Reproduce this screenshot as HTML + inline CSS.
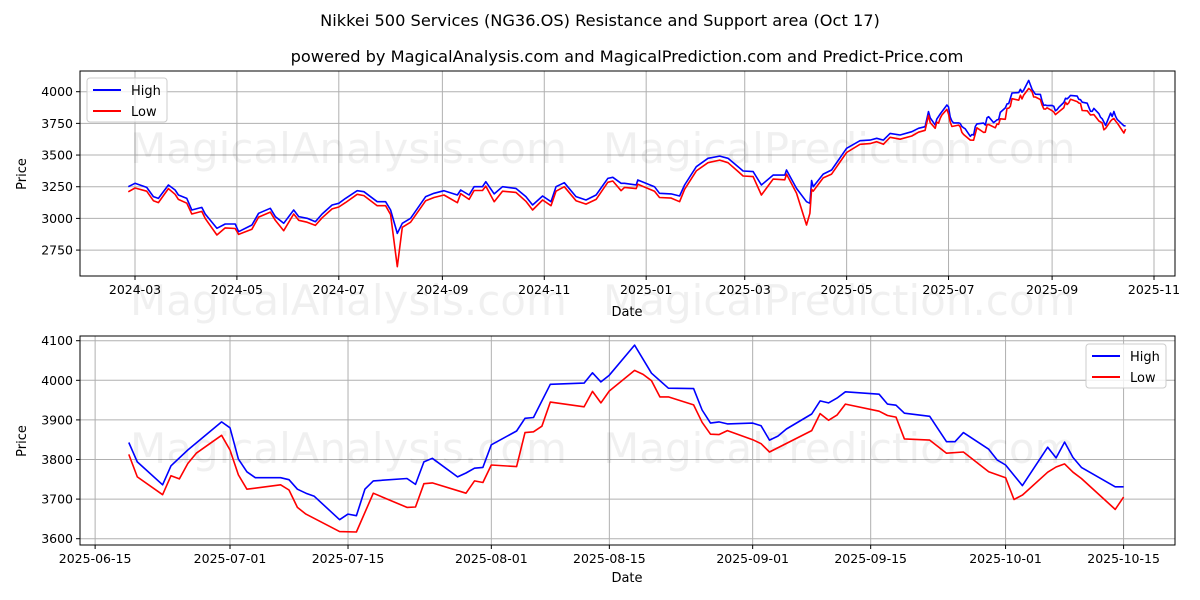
<!DOCTYPE html>
<html><head><meta charset="utf-8"><style>
body{margin:0;background:#fff;}
svg{display:block;font-family:"DejaVu Sans","Liberation Sans",sans-serif;}
</style></head><body>
<svg id="c" width="1200" height="600" xmlns="http://www.w3.org/2000/svg">
<rect width="1200" height="600" fill="#fff"/>
<text x="600" y="26" text-anchor="middle" font-size="16.2" fill="#000">Nikkei 500 Services (NG36.OS) Resistance and Support area (Oct 17)</text>
<text x="627" y="62" text-anchor="middle" font-size="16.2" fill="#000">powered by MagicalAnalysis.com and MagicalPrediction.com and Predict-Price.com</text>
<g id="topPanel"></g>
<g id="botPanel"></g>
</svg>
<script>
const earlyDates=["2024-02-26","2024-03-01","2024-03-08","2024-03-12","2024-03-15","2024-03-21","2024-03-25","2024-03-27","2024-04-01","2024-04-04","2024-04-10","2024-04-12","2024-04-19","2024-04-24","2024-04-30","2024-05-02","2024-05-10","2024-05-14","2024-05-21","2024-05-24","2024-05-29","2024-06-04","2024-06-07","2024-06-12","2024-06-17","2024-06-21","2024-06-27","2024-07-01","2024-07-05","2024-07-12","2024-07-16","2024-07-24","2024-07-29","2024-08-01","2024-08-05","2024-08-08","2024-08-13","2024-08-22","2024-08-27","2024-09-02","2024-09-10","2024-09-12","2024-09-17","2024-09-20","2024-09-25","2024-09-27","2024-10-02","2024-10-07","2024-10-15","2024-10-21","2024-10-25","2024-10-31","2024-11-05","2024-11-08","2024-11-13","2024-11-20","2024-11-26","2024-12-02","2024-12-09","2024-12-12","2024-12-17","2024-12-19","2024-12-26","2024-12-27","2025-01-06","2025-01-09","2025-01-16","2025-01-21","2025-01-24","2025-01-31","2025-02-07","2025-02-14","2025-02-19","2025-02-25","2025-02-28","2025-03-06","2025-03-11","2025-03-18","2025-03-25","2025-03-26","2025-04-01","2025-04-07","2025-04-09","2025-04-10","2025-04-11","2025-04-17","2025-04-22","2025-05-01","2025-05-09","2025-05-15","2025-05-19","2025-05-23","2025-05-27","2025-06-02","2025-06-09","2025-06-13","2025-06-17"];
const earlyHigh=[3250,3277,3245,3172,3158,3264,3224,3185,3158,3066,3087,3035,2922,2956,2956,2895,2948,3040,3080,3014,2961,3066,3014,3001,2974,3035,3106,3119,3158,3219,3211,3132,3132,3066,2882,2961,3001,3172,3198,3219,3185,3224,3185,3250,3250,3290,3193,3250,3237,3172,3106,3177,3132,3250,3282,3172,3145,3185,3316,3324,3277,3277,3264,3303,3250,3198,3193,3177,3264,3408,3474,3492,3474,3408,3374,3369,3264,3342,3342,3382,3237,3132,3119,3298,3250,3350,3382,3553,3613,3618,3632,3618,3671,3658,3684,3711,3724];
const earlyLow=[3210,3240,3215,3140,3125,3235,3190,3150,3120,3035,3055,3000,2869,2925,2920,2874,2915,3010,3050,2985,2903,3035,2985,2970,2945,3005,3075,3090,3125,3190,3180,3100,3100,3030,2619,2930,2970,3140,3165,3185,3124,3195,3150,3220,3220,3255,3132,3215,3205,3135,3066,3145,3100,3215,3250,3140,3113,3150,3285,3295,3219,3245,3235,3270,3215,3165,3160,3132,3230,3375,3440,3460,3440,3370,3335,3330,3185,3310,3305,3350,3200,2948,3040,3230,3215,3320,3350,3520,3585,3590,3605,3585,3640,3625,3650,3680,3695];
const recentHighDates=["2025-06-19","2025-06-20","2025-06-23","2025-06-24","2025-06-26","2025-06-30","2025-07-01","2025-07-02","2025-07-03","2025-07-04","2025-07-07","2025-07-08","2025-07-09","2025-07-10","2025-07-11","2025-07-14","2025-07-15","2025-07-16","2025-07-17","2025-07-18","2025-07-22","2025-07-23","2025-07-24","2025-07-25","2025-07-28","2025-07-29","2025-07-30","2025-07-31","2025-08-01","2025-08-04","2025-08-05","2025-08-06","2025-08-08","2025-08-12","2025-08-13","2025-08-14","2025-08-15","2025-08-18","2025-08-20","2025-08-22","2025-08-25","2025-08-26","2025-08-27","2025-08-28","2025-08-29","2025-09-01","2025-09-02","2025-09-03","2025-09-04","2025-09-05","2025-09-08","2025-09-09","2025-09-10","2025-09-11","2025-09-12","2025-09-16","2025-09-17","2025-09-18","2025-09-19","2025-09-22","2025-09-24","2025-09-25","2025-09-26","2025-09-29","2025-09-30","2025-10-01","2025-10-03","2025-10-06","2025-10-07","2025-10-08","2025-10-09","2025-10-10","2025-10-14","2025-10-15"];
const recentHigh=[3843,3794,3736,3784,3824,3895,3880,3801,3769,3754,3754,3749,3725,3715,3707,3648,3662,3658,3725,3746,3752,3737,3794,3803,3756,3766,3778,3780,3837,3872,3904,3906,3990,3993,4019,3996,4013,4089,4018,3980,3979,3925,3892,3895,3890,3892,3885,3849,3859,3877,3915,3948,3943,3955,3971,3965,3940,3937,3917,3909,3845,3845,3868,3826,3799,3786,3734,3831,3804,3844,3805,3780,3731,3731];
const recentLowDates=["2025-06-19","2025-06-20","2025-06-23","2025-06-24","2025-06-25","2025-06-26","2025-06-27","2025-06-30","2025-07-01","2025-07-02","2025-07-03","2025-07-07","2025-07-08","2025-07-09","2025-07-10","2025-07-14","2025-07-16","2025-07-18","2025-07-22","2025-07-23","2025-07-24","2025-07-25","2025-07-29","2025-07-30","2025-07-31","2025-08-01","2025-08-04","2025-08-05","2025-08-06","2025-08-07","2025-08-08","2025-08-12","2025-08-13","2025-08-14","2025-08-15","2025-08-18","2025-08-19","2025-08-20","2025-08-21","2025-08-22","2025-08-25","2025-08-26","2025-08-27","2025-08-28","2025-08-29","2025-09-01","2025-09-02","2025-09-03","2025-09-08","2025-09-09","2025-09-10","2025-09-11","2025-09-12","2025-09-16","2025-09-17","2025-09-18","2025-09-19","2025-09-22","2025-09-24","2025-09-26","2025-09-29","2025-10-01","2025-10-02","2025-10-03","2025-10-06","2025-10-07","2025-10-08","2025-10-09","2025-10-10","2025-10-14","2025-10-15"];
const recentLow=[3813,3756,3711,3759,3751,3790,3816,3861,3824,3761,3725,3736,3723,3679,3662,3618,3617,3715,3679,3680,3739,3741,3715,3746,3742,3786,3782,3868,3870,3884,3945,3933,3972,3943,3973,4025,4015,3999,3958,3958,3938,3894,3864,3863,3873,3850,3840,3819,3873,3916,3899,3912,3940,3922,3911,3907,3852,3849,3816,3819,3769,3754,3699,3710,3768,3781,3789,3768,3752,3674,3705];
const topYTicks=[2750,3000,3250,3500,3750,4000];
const topXTicks=["2024-03","2024-05","2024-07","2024-09","2024-11","2025-01","2025-03","2025-05","2025-07","2025-09","2025-11"];
const botYTicks=[3600,3700,3800,3900,4000,4100];
const botXTicks=["2025-06-15","2025-07-01","2025-07-15","2025-08-01","2025-08-15","2025-09-01","2025-09-15","2025-10-01","2025-10-15"];

const NS="http://www.w3.org/2000/svg";
const DAY=86400000;
function t(s){const p=s.split("-");return Date.UTC(+p[0],+p[1]-1,p[2]?+p[2]:1);}
function mk(parent,tag,attrs){const e=document.createElementNS(NS,tag);for(const k in attrs)e.setAttribute(k,attrs[k]);parent.appendChild(e);return e;}

function panel(g,cfg){
  const {L,R,T,B,xs,ys,yTicks,xTicks,series,legend,wm}=cfg;
  yTicks.forEach(v=>{const y=ys(v);
    const gl=mk(g,"line",{x1:L,x2:R,y1:y,y2:y,stroke:"#b0b0b0","stroke-width":1});
    
    
    mk(g,"line",{x1:L-4,x2:L,y1:y,y2:y,stroke:"#000"});
    const tx=mk(g,"text",{x:L-7,y:y+4.5,"text-anchor":"end","font-size":12.5});tx.textContent=v;
    
    
  });
  xTicks.forEach(s=>{const x=xs(t(s));
    const gl=mk(g,"line",{x1:x,x2:x,y1:T,y2:B,stroke:"#b0b0b0","stroke-width":1});
    
    
    mk(g,"line",{x1:x,x2:x,y1:B,y2:B+4,stroke:"#000"});
    const tx=mk(g,"text",{x:x,y:B+18,"text-anchor":"middle","font-size":12.5});tx.textContent=s;
    
    
  });
  wm.forEach(w=>{const tx=mk(g,"text",{x:w[0],y:w[1],"font-size":42,fill:"#000","fill-opacity":0.06});tx.textContent=w[2];
    
    
  });
  series.forEach(sr=>{
    const pts=sr.d.map((s,i)=>xs(t(s)).toFixed(1)+","+ys(sr.v[i]).toFixed(1)).join(" ");
    const pl=mk(g,"polyline",{points:pts,fill:"none",stroke:sr.c,"stroke-width":1.6,"stroke-linejoin":"round"});
    
    
  });
  const fr=mk(g,"rect",{x:L,y:T,width:R-L,height:B-T,fill:"none",stroke:"#000","stroke-width":1});
  
  
  const lg=mk(g,"g",{});
  
  
  mk(lg,"rect",{x:legend[0],y:legend[1],width:80,height:44,rx:3,fill:"#fff","fill-opacity":0.8,stroke:"#ccc"});
  [["High","#0000ff"],["Low","#ff0000"]].forEach((e,i)=>{
    const y=legend[1]+12+i*21;
    const ln=mk(lg,"line",{x1:legend[0]+6,x2:legend[0]+34,y1:y,y2:y,stroke:e[1],"stroke-width":2});
    
    
    const tx=mk(lg,"text",{x:legend[0]+44,y:y+5,"font-size":13});tx.textContent=e[0];
    
    
  });
}

const topG=document.getElementById("topPanel"), botG=document.getElementById("botPanel");
const svgRoot=document.getElementById("c");
const t0=t("2024-03-01"), t1=t("2025-07-01");
panel(topG,{L:80,R:1175,T:71,B:276,
  xs:v=>135+(v-t0)/DAY*1.6705, ys:v=>91.7+(4000-v)*0.1267,
  yTicks:topYTicks,xTicks:topXTicks,
  series:[{d:earlyDates.concat(recentHighDates),v:earlyHigh.concat(recentHigh),c:"#0000ff",name:"high-line-full"},
          {d:earlyDates.concat(recentLowDates),v:earlyLow.concat(recentLow),c:"#ff0000",name:"low-line-full"}],
  legend:[87,78], wm:[[130,163,"MagicalAnalysis.com"],[603,163,"MagicalPrediction.com"]]});
panel(botG,{L:80,R:1175,T:336,B:545,
  xs:v=>230+(v-t1)/DAY*8.43, ys:v=>380.3+(4000-v)*0.396,
  yTicks:botYTicks,xTicks:botXTicks,
  series:[{d:recentHighDates,v:recentHigh,c:"#0000ff",name:"high-line-recent"},
          {d:recentLowDates,v:recentLow,c:"#ff0000",name:"low-line-recent"}],
  legend:[1086,344], wm:[[130,463,"MagicalAnalysis.com"],[603,463,"MagicalPrediction.com"]]});
[[130,"MagicalAnalysis.com"],[603,"MagicalPrediction.com"]].forEach(w=>{
  const mw=mk(svgRoot,"text",{x:w[0],y:315,"font-size":42,"fill-opacity":0.06});
  mw.textContent=w[1];
  
  
});
[[627,316,"Date"],[627,582,"Date"]].forEach(a=>{const tx=mk(svgRoot,"text",{x:a[0],y:a[1],"text-anchor":"middle","font-size":13});tx.textContent=a[2];
  
  
});
[[26,174],[26,441]].forEach(a=>{const tx=mk(svgRoot,"text",{x:a[0],y:a[1],"text-anchor":"middle","font-size":13,transform:`rotate(-90 ${a[0]} ${a[1]})`});tx.textContent="Price";
  
  
});
</script>
</body></html>
